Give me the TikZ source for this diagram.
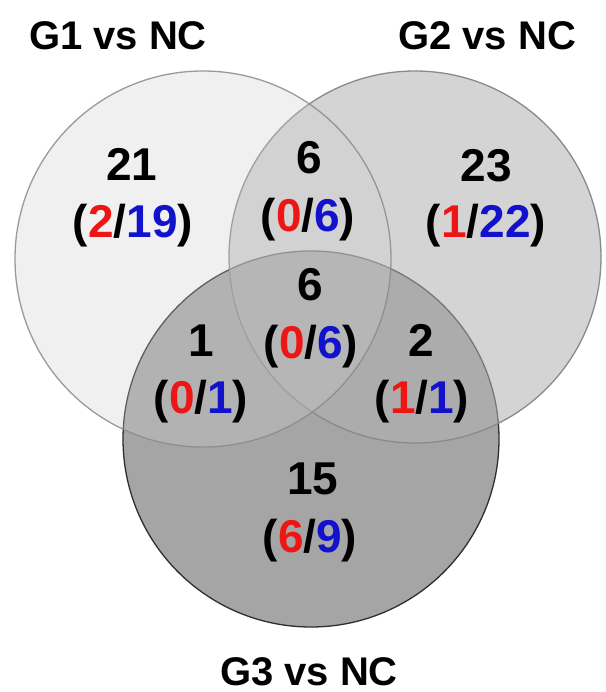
\documentclass[tikz,border=0pt]{standalone}
\usepackage{fontspec}
\setmainfont{Liberation Sans}
\definecolor{vred}{HTML}{EE1515}
\definecolor{vblue}{HTML}{1212CC}
\definecolor{gthree}{HTML}{A5A5A5}
\definecolor{gtwo}{HTML}{B2B2B2}
\definecolor{gone}{HTML}{CFCFCF}
\definecolor{rimdark}{HTML}{2E2E2E}
\definecolor{rimlight}{HTML}{8A8A8A}
\tikzset{
  count/.style={inner sep=0pt, anchor=base, font=\fontsize{46}{50}\selectfont\bfseries},
  setname/.style={inner sep=0pt, anchor=base, font=\fontsize{40}{44}\selectfont\bfseries},
  rim/.style={line width=1.3pt}
}
\newcommand{\split}[2]{(\textcolor{vred}{#1}/\textcolor{vblue}{#2})}
\begin{document}
\begin{tikzpicture}[x=1pt, y=-1pt]
\useasboundingbox (0,0) rectangle (605,692);
\fill[white] (0,0) rectangle (605,692);

% set circles: G3 underneath, G2 and G1 laid over it with partial opacity
\fill[gthree] (311,439) circle[radius=188];
\draw[rim, rimdark] (311,439) circle[radius=188];
\fill[gtwo, fill opacity=0.556] (415,257) circle[radius=186];
\draw[rim, rimlight] (415,257) circle[radius=186];
\fill[gone, fill opacity=0.311] (203,259) circle[radius=188];
\draw[rim, rimlight, draw opacity=0.85] (203,259) circle[radius=188];

% set names
\node[setname] (n1) at (118,50) {G1 vs NC};
\node[setname] (n2) at (487,50) {G2 vs NC};
\node[setname] (n3) at (309,685) {G3 vs NC};

% region counts
\node[count] (a)  at (132,181) {21};
\node[count] (as) at (133,237) {\split{2}{19}};
\node[count] (b)  at (309,174) {6};
\node[count] (bs) at (308,232) {\split{0}{6}};
\node[count] (c)  at (486,182) {23};
\node[count] (cs) at (486,238) {\split{1}{22}};
\node[count] (d)  at (310,300) {6};
\node[count] (ds) at (311,358) {\split{0}{6}};
\node[count] (e)  at (201,356) {1};
\node[count] (es) at (201,413) {\split{0}{1}};
\node[count] (f)  at (421,356) {2};
\node[count] (fs) at (422,413) {\split{1}{1}};
\node[count] (g)  at (313,494) {15};
\node[count] (gs) at (310,552) {\split{6}{9}};
\end{tikzpicture}
\end{document}
